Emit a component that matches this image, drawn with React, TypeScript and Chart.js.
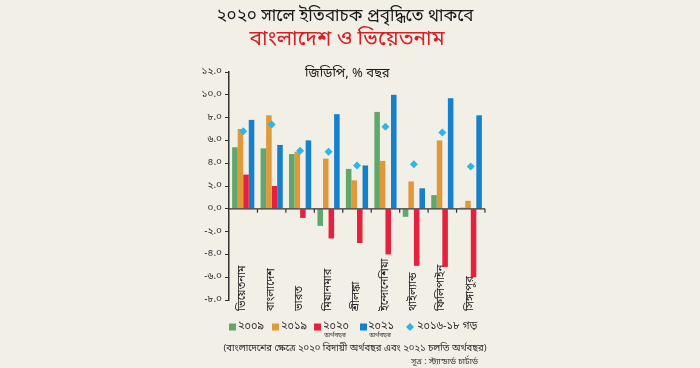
import React, { useEffect, useRef } from "react";
import { Chart, registerables } from "chart.js";

Chart.register(...registerables);

const categories = ["ভিয়েতনাম", "বাংলাদেশ", "ভারত", "মিয়ানমার", "শ্রীলঙ্কা", "ইন্দোনেশিয়া", "থাইল্যান্ড", "ফিলিপাইন", "সিঙ্গাপুর"];
const series2009 = [5.4, 5.3, 4.8, -1.5, 3.5, 8.5, -0.7, 1.2, 0.1];
const series2019 = [7.0, 8.2, 5.0, 4.4, 2.5, 4.2, 2.4, 6.0, 0.7];
const series2020 = [3.0, 2.0, -0.8, -2.6, -3.0, -4.0, -5.0, -5.1, -6.0];
const series2021 = [7.8, 5.6, 6.0, 8.3, 3.8, 10.0, 1.8, 9.7, 8.2];
const avg2016to18 = [6.8, 7.4, 5.1, 5.0, 3.8, 7.2, 3.9, 6.7, 3.7];
const yTicks = [-8, -6, -4, -2, 0, 2, 4, 6, 8, 10, 12];

const legendLabels = ["২০০৯", "২০১৯", "২০২০", "২০২১", "২০১৬-১৮ গড়"];
const titleLine1 = "২০২০ সালে ইতিবাচক প্রবৃদ্ধিতে থাকবে";
const titleLine2 = "বাংলাদেশ ও ভিয়েতনাম";
const subtitle = "জিডিপি, % বছর";
const fiscalNote = "অর্থবছর";
const footnote = "(বাংলাদেশের ক্ষেত্রে ২০২০ বিদায়ী অর্থবছর এবং ২০২১ চলতি অর্থবছর)";
const source = "সূত্র : স্ট্যান্ডার্ড চার্টার্ড";

const COLORS = {
  bg: "#f2efe7",
  green: "#5fa86b",
  orange: "#e0993a",
  red: "#e5213d",
  blue: "#1580cc",
  cyan: "#2db5e8",
  axis: "#333333",
};

const FONT = "'Noto Sans Bengali', 'Noto Serif Bengali', 'Lohit Bengali', 'FreeSerif', 'Noto Sans', sans-serif";

const bnDigits = ["০", "১", "২", "৩", "৪", "৫", "৬", "৭", "৮", "৯"];
const toBn = (s: string) => s.replace(/[0-9]/g, (d) => bnDigits[Number(d)]);

const decorPlugin = {
  id: "decor",
  beforeDraw(chart: any) {
    const { ctx, width, height } = chart;
    ctx.save();
    ctx.fillStyle = COLORS.bg;
    ctx.fillRect(0, 0, width, height);
    ctx.restore();
  },
  afterDatasetsDraw(chart: any) {
    const { ctx, chartArea } = chart;
    const x = chart.scales.x;
    const y = chart.scales.y;
    const y0 = y.getPixelForValue(0);
    const n = categories.length;
    const step = x.getPixelForValue(1) - x.getPixelForValue(0);
    const right = x.getPixelForValue(n - 1) + step / 2;
    ctx.save();
    ctx.strokeStyle = COLORS.axis;
    ctx.lineWidth = 1.2;
    ctx.beginPath();
    ctx.moveTo(chartArea.left, y0);
    ctx.lineTo(right, y0);
    for (let i = 0; i < n; i++) {
      const bx = x.getPixelForValue(i) + step / 2;
      ctx.moveTo(bx, y0);
      ctx.lineTo(bx, y0 + 4);
    }
    ctx.stroke();
    ctx.restore();
  },
  afterDraw(chart: any) {
    const { ctx } = chart;
    const x = chart.scales.x;
    const y = chart.scales.y;
    ctx.save();
    // titles
    ctx.textAlign = "center";
    ctx.textBaseline = "middle";
    ctx.fillStyle = "#1a1a1a";
    ctx.font = `17px ${FONT}`;
    ctx.fillText(titleLine1, 345, 18);
    ctx.fillStyle = "#d42027";
    ctx.font = `21px ${FONT}`;
    ctx.fillText(titleLine2, 347, 41);
    ctx.fillStyle = "#1a1a1a";
    ctx.font = `13px ${FONT}`;
    ctx.textAlign = "left";
    ctx.fillText(subtitle, 305, 74);

    // category labels, rotated
    ctx.font = `11px ${FONT}`;
    ctx.fillStyle = "#222";
    const yb = y.getPixelForValue(y.min) + 11;
    categories.forEach((c, i) => {
      ctx.save();
      ctx.translate(x.getPixelForValue(i), yb);
      ctx.rotate(-Math.PI / 2);
      ctx.textAlign = "left";
      ctx.textBaseline = "middle";
      ctx.fillText(c, 0, 0);
      ctx.restore();
    });

    // legend
    const ly = 327;
    const items = [
      { color: COLORS.green, sx: 229, tx: 238, sub: false },
      { color: COLORS.orange, sx: 272, tx: 281, sub: false },
      { color: COLORS.red, sx: 314, tx: 323, sub: true },
      { color: COLORS.blue, sx: 360, tx: 368, sub: true },
      { color: COLORS.cyan, sx: 410, tx: 417, sub: false, diamond: true },
    ];
    items.forEach((it: any, i) => {
      ctx.fillStyle = it.color;
      if (it.diamond) {
        ctx.beginPath();
        ctx.moveTo(it.sx, ly - 4);
        ctx.lineTo(it.sx + 4, ly);
        ctx.lineTo(it.sx, ly + 4);
        ctx.lineTo(it.sx - 4, ly);
        ctx.closePath();
        ctx.fill();
      } else {
        ctx.fillRect(it.sx, ly - 3.5, 7, 7);
      }
      ctx.fillStyle = "#333";
      ctx.font = `11px ${FONT}`;
      ctx.textAlign = "left";
      ctx.textBaseline = "middle";
      ctx.fillText(legendLabels[i], it.tx, ly);
      if (it.sub) {
        ctx.font = `6.5px ${FONT}`;
        ctx.textAlign = "center";
        ctx.fillText(fiscalNote, it.tx + 12, ly + 9);
      }
    });

    // footnote & source
    ctx.fillStyle = "#333";
    ctx.font = `9.5px ${FONT}`;
    ctx.textAlign = "center";
    ctx.fillText(footnote, 355, 349);
    ctx.font = `8.5px ${FONT}`;
    ctx.textAlign = "right";
    ctx.fillText(source, 478, 362);
    ctx.restore();
  },
};

export default function App() {
  const canvasRef = useRef<HTMLCanvasElement | null>(null);

  useEffect(() => {
    if (!canvasRef.current) return;
    const chart = new Chart(canvasRef.current, {
      type: "bar",
      data: {
        labels: categories,
        datasets: [
          { type: "line", label: legendLabels[4], data: avg2016to18, showLine: false, pointStyle: "rectRot", pointRadius: 4, pointBackgroundColor: COLORS.cyan, pointBorderColor: COLORS.cyan, pointBorderWidth: 0, order: 0 } as any,
          { label: legendLabels[0], data: series2009, backgroundColor: COLORS.green, order: 1 },
          { label: legendLabels[1], data: series2019, backgroundColor: COLORS.orange, order: 1 },
          { label: legendLabels[2], data: series2020, backgroundColor: COLORS.red, order: 1 },
          { label: legendLabels[3], data: series2021, backgroundColor: COLORS.blue, order: 1 },
        ],
      },
      options: {
        responsive: false,
        animation: false,
        maintainAspectRatio: false,
        layout: { padding: { left: 189, right: 215, top: 72, bottom: 68 } },
        datasets: { bar: { barPercentage: 1, categoryPercentage: 0.78, borderWidth: 0 } } as any,
        plugins: { legend: { display: false }, tooltip: { enabled: false }, title: { display: false } },
        scales: {
          x: { display: false, offset: true, grid: { display: false } },
          y: {
            min: -8,
            max: 12,
            afterFit: (s: any) => { s.width = 40; },
            afterBuildTicks: (s: any) => { s.ticks = yTicks.map((v) => ({ value: v })); },
            ticks: {
              color: "#333",
              font: { size: 10, family: FONT },
              padding: 3,
              callback: (v: any) => toBn(Number(v).toFixed(1)),
            },
            grid: { drawOnChartArea: false, drawTicks: true, tickLength: 4, color: COLORS.axis },
            border: { display: true, color: COLORS.axis, width: 1.5 },
          },
        },
      },
      plugins: [decorPlugin],
    });
    return () => chart.destroy();
  }, []);

  return (
    <div style={{ position: "fixed", left: 0, top: 0, width: 700, height: 368, background: COLORS.bg }}>
      <canvas ref={canvasRef} width={700} height={368} style={{ width: 700, height: 368, display: "block" }} />
    </div>
  );
}
